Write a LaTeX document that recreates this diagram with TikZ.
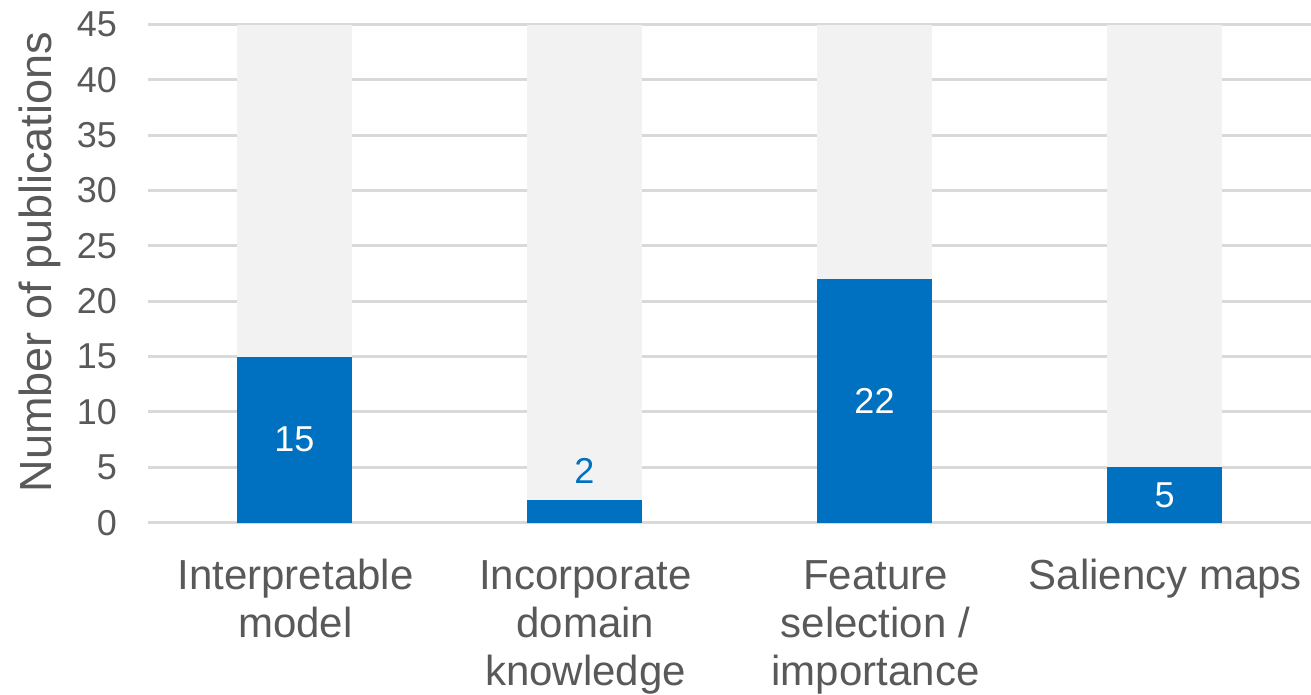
\documentclass[tikz,border=0pt]{standalone}
\usepackage{fontspec}
\setmainfont{Liberation Sans}
\definecolor{barblue}{HTML}{0070C0}
\definecolor{barbg}{HTML}{F2F2F2}
\definecolor{gridgray}{HTML}{D9D9D9}
\definecolor{labelgray}{HTML}{595959}
\begin{document}
\begin{tikzpicture}[x=1pt,y=-1pt,
  gridline/.style={draw=gridgray,line width=3pt},
  bgbar/.style={fill=barbg,draw=none},
  valbar/.style={fill=barblue,draw=none},
  ticklabel/.style={text=labelgray,anchor=east,inner sep=0pt,font=\fontsize{36}{41}\selectfont},
  catlabel/.style={text=labelgray,anchor=base,align=center,inner sep=0pt,font=\fontsize{42}{48.3}\selectfont},
  vallabel/.style={text=white,inner sep=0pt,font=\fontsize{36}{41}\selectfont},
  axistitle/.style={text=labelgray,rotate=90,inner sep=0pt,font=\fontsize{45}{51}\selectfont}]
\useasboundingbox[fill=white] (0,0) rectangle (1311,694);

% horizontal gridlines and tick labels, 0 to 45 in steps of 5
\foreach \v [count=\i] in {0,5,...,45}{
  \pgfmathsetmacro{\yy}{522.6-11.07*\v}
  \coordinate (g\i) at (148,\yy);
  \coordinate (h\i) at (1311,\yy);
  \draw[gridline] (g\i) -- (h\i);
  \node[ticklabel] (t\i) at (117,\yy) {\v};
}

\node[axistitle] (title) at (40,262) {Number of publications};

% bars: light background to 45, blue value bar on top
\foreach \val/\name [count=\k] in {15/a,2/b,22/c,5/d}{
  \pgfmathsetmacro{\xl}{236.7+290*(\k-1)}
  \pgfmathsetmacro{\xr}{\xl+115.6}
  \pgfmathsetmacro{\yt}{522.6-11.07*\val}
  \fill[bgbar] (\xl,24.5) rectangle (\xr,522.6);
  \fill[valbar] (\xl,\yt) rectangle (\xr,522.6);
  \coordinate (top\name) at ({(\xl+\xr)/2},\yt);
  \coordinate (mid\name) at ({(\xl+\xr)/2},{(\yt+522.6)/2});
}

\node[vallabel] (va) at (mida) {15};
\node[vallabel,text=barblue,anchor=south] (vb) at ([yshift=17pt]topb) {2};
\node[vallabel] (vc) at (midc) {22};
\node[vallabel] (vd) at (midd) {5};

% category labels (base anchor sits on the last line's baseline)
\node[catlabel] (ca) at (295.5,637.3) {Interpretable\\model};
\node[catlabel] (cb) at (585.5,685.6) {Incorporate\\domain\\knowledge};
\node[catlabel] (cc) at (875.5,685.6) {Feature\\selection /\\importance};
\node[catlabel] (cd) at (1165.5,589) {Saliency maps};
\end{tikzpicture}
\end{document}
